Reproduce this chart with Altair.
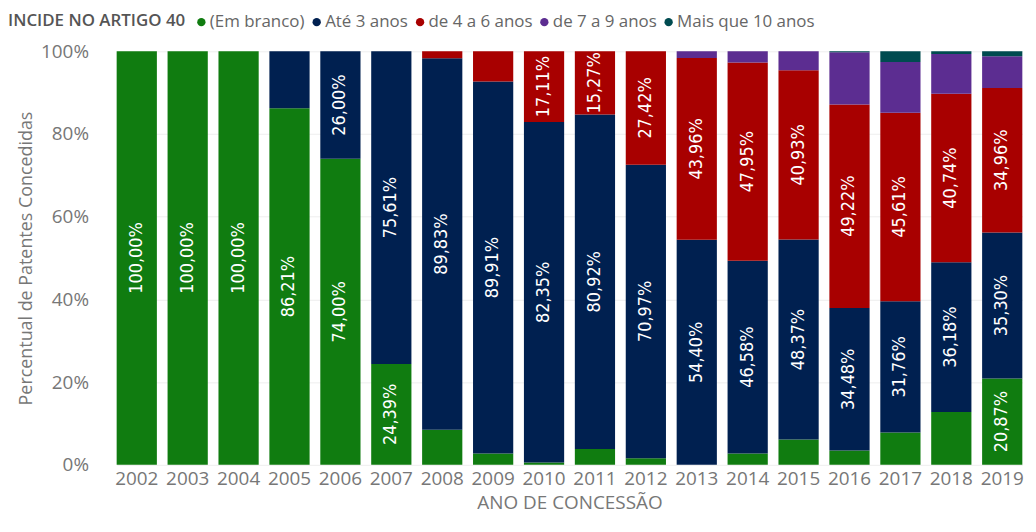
import altair as alt
import pandas as pd

years = [str(y) for y in range(2002, 2020)]
series = ["(Em branco)", "Até 3 anos", "de 4 a 6 anos", "de 7 a 9 anos", "Mais que 10 anos"]
colors = ["#107C10", "#002050", "#A80000", "#5C2D91", "#004B50"]

em_branco = [100.00, 100.00, 100.00, 86.21, 74.00, 24.39, 8.47, 2.75, 0.54, 3.81, 1.61, 0.00, 2.74, 6.12, 3.45, 7.79, 12.80, 20.87]
ate_3     = [0.00, 0.00, 0.00, 13.79, 26.00, 75.61, 89.83, 89.91, 82.35, 80.92, 70.97, 54.40, 46.58, 48.37, 34.48, 31.76, 36.18, 35.30]
de_4_6    = [0.00, 0.00, 0.00, 0.00, 0.00, 0.00, 1.70, 7.34, 17.11, 15.27, 27.42, 43.96, 47.95, 40.93, 49.22, 45.61, 40.74, 34.96]
de_7_9    = [0.00, 0.00, 0.00, 0.00, 0.00, 0.00, 0.00, 0.00, 0.00, 0.00, 0.00, 1.64, 2.73, 4.58, 12.60, 12.26, 9.63, 7.69]
mais_10   = [0.00, 0.00, 0.00, 0.00, 0.00, 0.00, 0.00, 0.00, 0.00, 0.00, 0.00, 0.00, 0.00, 0.00, 0.25, 2.58, 0.65, 1.18]

all_series = [em_branco, ate_3, de_4_6, de_7_9, mais_10]
rows = []
for k, (name, vals) in enumerate(zip(series, all_series)):
    for y, v in zip(years, vals):
        rows.append({"ano": y, "serie": name, "k": k, "v": v})
df = pd.DataFrame(rows)

base = alt.Chart(df).transform_stack(
    stack="v", groupby=["ano"], as_=["y0", "y1"], offset="normalize",
    sort=[alt.SortField("k", order="ascending")]
).transform_calculate(
    mid="(datum.y0 + datum.y1) / 2",
    lbl="replace(format(datum.v, '.2f'), '.', ',') + '%'"
)

x_enc = alt.X("ano:N", sort=years,
              scale=alt.Scale(range=[20.3, 931.3], paddingInner=0.21, paddingOuter=0),
              axis=alt.Axis(title="ANO DE CONCESSÃO", labelAngle=0, labelFontSize=19,
                            labelColor="#777777", labelFont="Open Sans", labelPadding=5,
                            titleFontSize=19, titleFont="Open Sans", titleColor="#777777",
                            titleFontWeight="normal", titlePadding=5,
                            domain=False, ticks=False))

bars = base.mark_bar().encode(
    x=x_enc,
    y=alt.Y("y0:Q", scale=alt.Scale(domain=[0, 1]),
            axis=alt.Axis(title="Percentual de Patentes Concedidas", format=".0%",
                          values=[0, 0.2, 0.4, 0.6, 0.8, 1.0],
                          labelFontSize=19, labelColor="#777777", labelFont="Open Sans",
                          labelPadding=8, titleFontSize=18, titleFont="Open Sans",
                          titleColor="#777777", titleFontWeight="normal", titlePadding=5,
                          domain=False, ticks=False, gridColor="#EEEEEE")),
    y2="y1:Q",
    color=alt.Color("serie:N", sort=series,
                    scale=alt.Scale(domain=series, range=colors),
                    legend=alt.Legend(title="INCIDE NO ARTIGO 40", orient="none",
                                      direction="horizontal", titleOrient="left",
                                      legendX=-89, legendY=-38,
                                      titleFont="Open Sans", titleFontSize=17,
                                      titleFontWeight=600, titleColor="#555555",
                                      titlePadding=7, titleLimit=400,
                                      labelFont="Open Sans", labelFontSize=17,
                                      labelColor="#666666", labelOffset=0,
                                      symbolType="circle", symbolSize=70,
                                      symbolStrokeWidth=0, columnPadding=3)),
)

labels = base.transform_filter("datum.v >= 15").mark_text(
    angle=270, color="white", fontSize=18, font="DejaVu Sans Condensed",
    align="center", baseline="middle"
).encode(
    x=alt.X("ano:N", sort=years),
    y=alt.Y("mid:Q"),
    text="lbl:N",
)

chart = alt.layer(bars, labels).properties(
    width=937, height=416,
    autosize=alt.AutoSizeParams(type="none"),
    padding={"left": 89, "top": 42, "right": 0, "bottom": 58},
).configure_view(stroke=None)

chart.save("out.html", embed_options={"renderer": "svg", "actions": False})
